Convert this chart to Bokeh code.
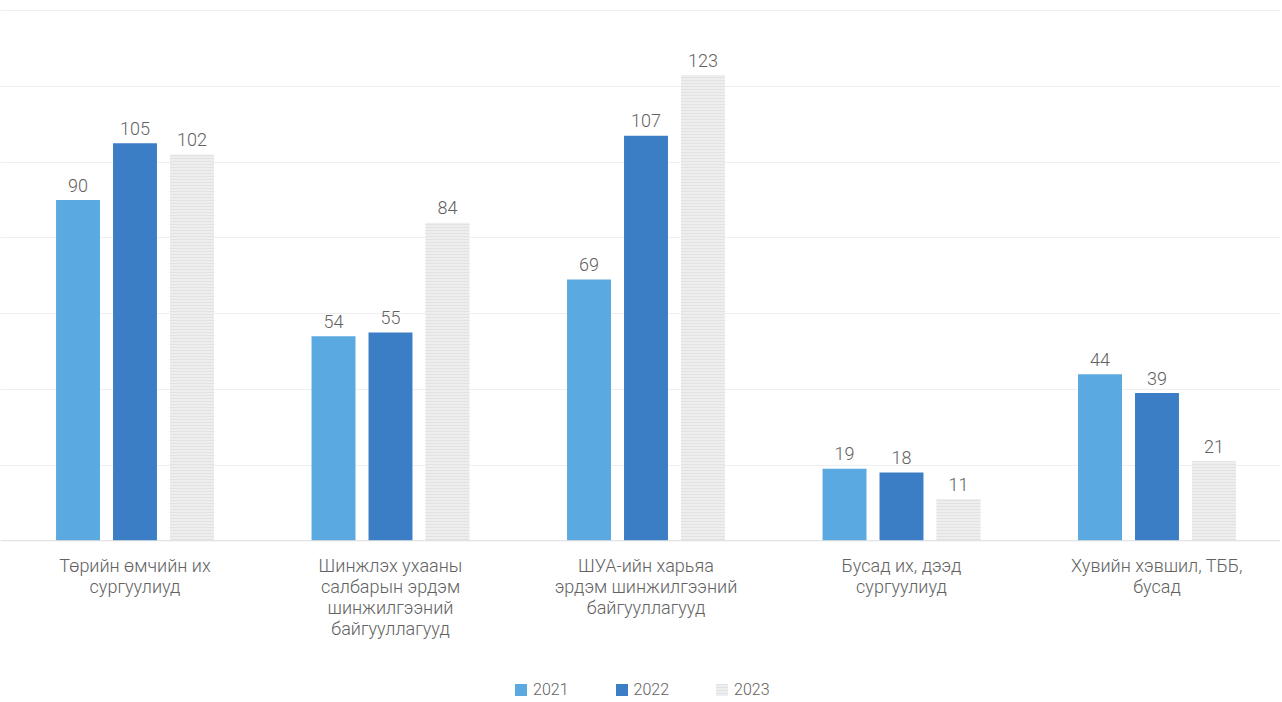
from bokeh.plotting import figure
from bokeh.models import (ColumnDataSource, Range1d, FixedTicker, Span,
                          Legend, LegendItem)
from bokeh.core.properties import value
from bokeh.embed import file_html
from bokeh.resources import INLINE

categories = [
    "Төрийн өмчийн их\nсургуулиуд",
    "Шинжлэх ухааны\nсалбарын эрдэм\nшинжилгээний\nбайгууллагууд",
    "ШУА-ийн харьяа\nэрдэм шинжилгээний\nбайгууллагууд",
    "Бусад их, дээд\nсургуулиуд",
    "Хувийн хэвшил, ТББ,\nбусад",
]
years = ["2021", "2022", "2023"]
v2021 = [90, 54, 69, 19, 44]
v2022 = [105, 55, 107, 18, 39]
v2023 = [102, 84, 123, 11, 21]
grid_ticks = [20, 40, 60, 80, 100, 120, 140]

colors = ["#5aaae1", "#3c7ec5", "#eeeeee"]
offsets = [-0.223, 0.0, 0.223]
series = [v2021, v2022, v2023]

FONT = "Roboto Light"
TXT = "#626262"

p = figure(frame_width=1280, frame_height=700, output_backend="svg", toolbar_location=None,
           x_range=Range1d(-0.5264, 4.4834), y_range=Range1d(-42.2, 142.7),
           min_border_left=0, min_border_right=0, min_border_top=0, min_border_bottom=0)
p.outline_line_color = None
p.background_fill_color = "white"
p.border_fill_color = "white"
p.xgrid.visible = False
p.xaxis.visible = False
p.yaxis.visible = False
p.ygrid.ticker = FixedTicker(ticks=grid_ticks)
p.ygrid.grid_line_color = "#efefef"
p.ygrid.grid_line_width = 1

p.add_layout(Span(location=0, dimension="width", line_color="#dcdcdc", line_width=1))

idx = list(range(len(categories)))
renderers = []
for k, (vals, col, off) in enumerate(zip(series, colors, offsets)):
    src = ColumnDataSource(dict(x=[i + off for i in idx], top=vals,
                                lab=[str(v) for v in vals]))
    if k == 2:
        r = p.vbar(x="x", top="top", bottom=0, width=0.172, source=src,
                   fill_color=col, line_color=None, hatch_pattern="horizontal_line",
                   hatch_color="#e2e2e2", hatch_scale=3, hatch_weight=1)
    else:
        r = p.vbar(x="x", top="top", bottom=0, width=0.172, source=src,
                   fill_color=col, line_color=None)
    renderers.append(r)
    p.text(x="x", y="top", text="lab", source=src, y_offset=-15,
           text_align="center", text_baseline="alphabetic",
           text_font=value(FONT), text_font_size="18px", text_color=TXT)

csrc = ColumnDataSource(dict(x=idx, y=[0] * len(idx), t=categories))
p.text(x="x", y="y", text="t", source=csrc, y_offset=14,
       text_align="center", text_baseline="top", text_line_height=1.0,
       text_font=value(FONT), text_font_size="18px", text_color=TXT)

legend = Legend(items=[LegendItem(label=y, renderers=[r]) for y, r in zip(years, renderers)],
                orientation="horizontal", location=(513, 1),
                border_line_color=None, background_fill_alpha=0,
                label_text_font=FONT, label_text_font_size="16px", label_text_color=TXT,
                glyph_width=15, glyph_height=15, label_standoff=5, spacing=45,
                margin=0, padding=0)
p.add_layout(legend, "center")

open("out.html", "w").write(file_html(p, INLINE))
